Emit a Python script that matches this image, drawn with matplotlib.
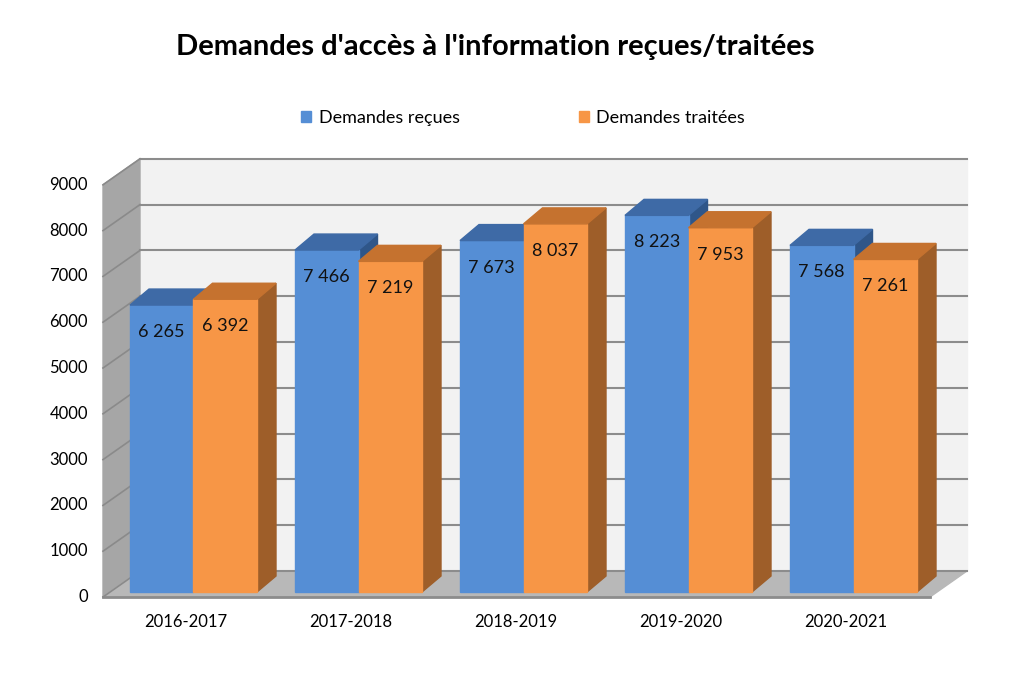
import matplotlib.pyplot as plt
from matplotlib.patches import Patch

plt.rcParams['font.family'] = ['Lato', 'DejaVu Sans']

# données du graphique
annees = ['2016-2017', '2017-2018', '2018-2019', '2019-2020', '2020-2021']
recues = [6265, 7466, 7673, 8223, 7568]
traitees = [6392, 7219, 8037, 7953, 7261]
graduations = list(range(0, 10000, 1000))
series = ['Demandes reçues', 'Demandes traitées']

BLEU = ('#558ed5', '#3e6aa6', '#2f5689')      # face, dessus, côté
ORANGE = ('#f79646', '#c5722f', '#9e5e29')

# échelle : 165 px par catégorie, 0.0458 px par demande
PX, PY = 165.0, 0.0458


def fmt(v):
    return f'{v:,}'.replace(',', ' ')


fig = plt.figure(figsize=(10.19, 6.76), dpi=100)
ax = fig.add_axes([0, 0, 1, 1])
ax.axis('off')
ax.set_xlim(-186 / PX, (1019 - 186) / PX)
ax.set_ylim((597 - 676) / PY, 597 / PY)

# murs et sol
xl, xr = (103 - 186) / PX, (930 - 186) / PX
wdx, wdy = 37 / PX, 26 / PY
ymax = graduations[-1]

ax.fill([xl + wdx, xr + wdx, xr + wdx, xl + wdx], [wdy, wdy, ymax + wdy, ymax + wdy],
        color='#f2f2f2', zorder=1)
ax.fill([xl, xl + wdx, xl + wdx, xl], [0, wdy, ymax + wdy, ymax], color='#a6a6a6', zorder=1)
ax.fill([xl, xr, xr + wdx, xl + wdx], [0, 0, wdy, wdy], color='#b8b8b8', zorder=2)
ax.plot([xl, xr], [0, 0], color='#8c8c8c', lw=2, zorder=3)

for v in graduations:
    ax.plot([xl + wdx, xr + wdx], [v + wdy, v + wdy], color='#8c8c8c', lw=1.5, zorder=3)
    ax.plot([xl, xl + wdx], [v, v + wdy], color='#8a8a8a', lw=1.2, zorder=3)
    ax.text((88 - 186) / PX, v, str(v), ha='right', va='center', fontsize=12)

# barres 3D
w = 63.5 / PX
b0 = 5 / PY
bdx, bdy = 19 / PX, 16 / PY


def barre(x0, val, couleurs):
    face, dessus, cote = couleurs
    x1 = x0 + w
    y0, y1 = b0, b0 + val
    ax.fill([x1, x1 + bdx, x1 + bdx, x1], [y0, y0 + bdy, y1 + bdy, y1], color=cote, zorder=4)
    ax.fill([x0, x1, x1, x0], [y0, y0, y1, y1], color=face, zorder=4)
    ax.fill([x0, x1, x1 + bdx, x0 + bdx], [y1, y1, y1 + bdy, y1 + bdy], color=dessus, zorder=4)
    ax.text(x0 + w / 2, y1 - 27 / PY, fmt(val), ha='center', va='center',
            fontsize=13, color='#111111', zorder=5)


for i, (r, t) in enumerate(zip(recues, traitees)):
    gauche = i + (130 - 186) / PX
    barre(gauche, r, BLEU)
    barre(gauche + w, t, ORANGE)
    ax.text(i, (597 - 622) / PY, annees[i], ha='center', va='center', fontsize=12)

fig.text(495 / 1019, 1 - 47 / 676, "Demandes d'accès à l'information reçues/traitées",
         ha='center', va='center', fontsize=21, fontweight='bold')

poignees = [Patch(color=BLEU[0], label=series[0]), Patch(color=ORANGE[0], label=series[1])]
fig.legend(handles=poignees, loc='center', bbox_to_anchor=(523 / 1019, 1 - 118 / 676),
           ncol=2, frameon=False, fontsize=13, handlelength=0.55, handleheight=0.55,
           columnspacing=6.6, handletextpad=0.4)

fig.savefig('out.png', dpi=100)
